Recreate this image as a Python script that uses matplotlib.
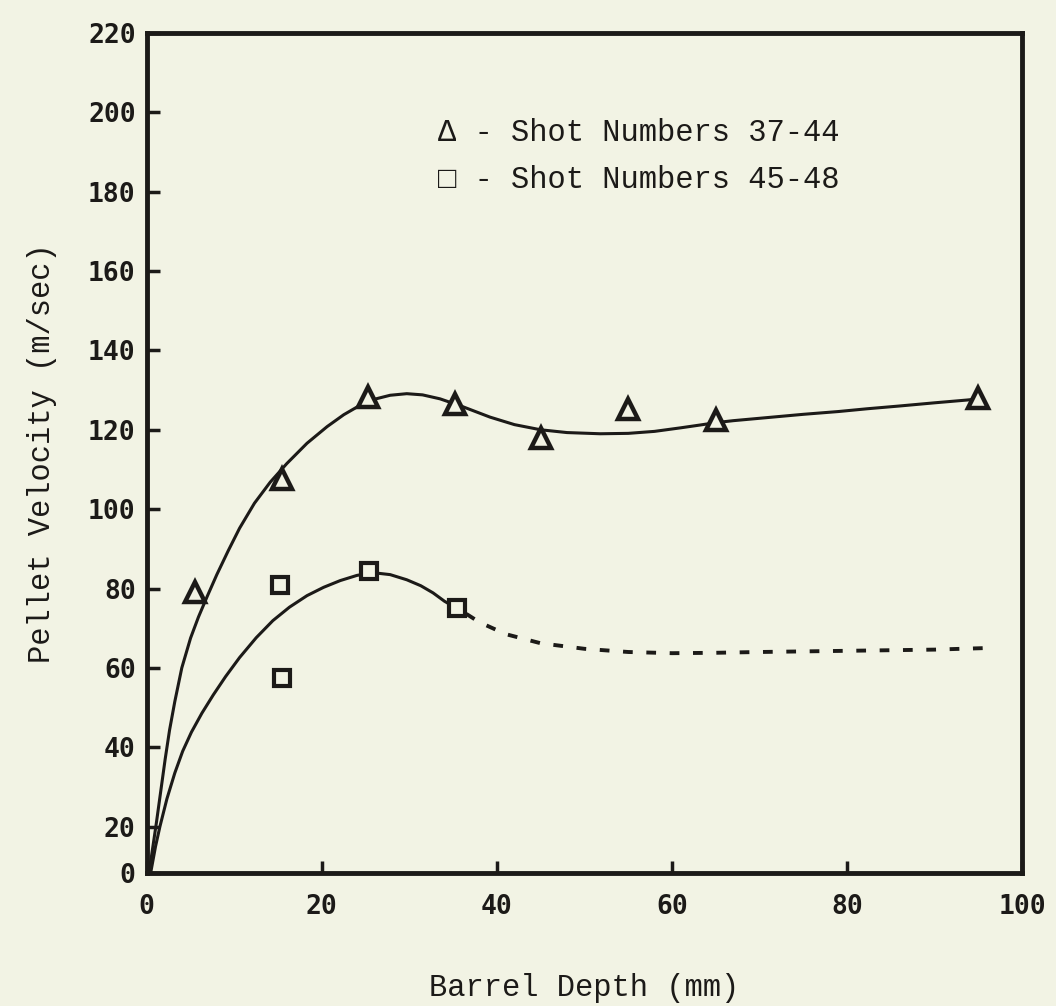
import numpy as np
import matplotlib.pyplot as plt

# measured points
tri_x = [5.5, 15.4, 25.3, 35.2, 45.0, 55.0, 65.0, 95.0]
tri_y = [79.0, 107.5, 128.3, 126.6, 118.0, 125.3, 122.5, 128.0]
sq_x = [15.2, 15.5, 25.4, 35.4]
sq_y = [81.0, 57.5, 84.5, 75.0]

# hand drawn fit curves
fit1_x = [0.3, 0.7, 1.1, 1.6, 2.1, 2.6, 3.2, 4.0, 5.0, 5.9, 6.9, 8.0, 9.3, 10.6,
          12.3, 14.1, 16.0, 18.3, 20.6, 22.5, 24.3, 26.0, 27.8, 29.7, 31.5, 33.5,
          36.0, 39.2, 42.0, 45.0, 48.0, 51.8, 55.0, 58.0, 61.0, 63.2, 65.0, 67.0,
          71.0, 75.0, 79.0, 82.3, 86.0, 90.0, 93.7, 95.0]
fit1_y = [9.0, 15.0, 21.0, 29.0, 37.0, 44.3, 51.5, 60.0, 67.5, 72.8, 78.0, 83.5, 89.5, 95.2,
          101.5, 106.8, 111.5, 116.6, 120.8, 123.8, 126.1, 127.7, 128.7, 129.1, 128.8, 127.8,
          125.9, 123.2, 121.3, 120.0, 119.3, 119.0, 119.1, 119.6, 120.5, 121.2, 121.8, 122.3,
          123.1, 123.9, 124.6, 125.3, 126.0, 126.8, 127.5, 127.8]
fit2_x = [0.5, 1.0, 1.5, 2.3, 3.2, 4.1, 5.1, 6.3, 7.6, 9.0, 10.6, 12.5, 14.4, 16.3,
          18.3, 20.2, 22.1, 24.0, 25.8, 27.8, 29.7, 31.3, 32.7, 34.0, 35.4]
fit2_y = [9.0, 15.0, 20.0, 27.0, 33.5, 39.0, 43.8, 48.6, 53.2, 57.8, 62.6, 67.6, 71.9, 75.3,
          78.2, 80.3, 82.0, 83.3, 84.0, 83.5, 82.2, 80.7, 78.9, 76.8, 75.0]
ext2_x = [36.5, 38.0, 41.0, 45.0, 50.0, 55.0, 60.0, 65.0, 70.0, 80.0, 90.0, 96.0]
ext2_y = [73.6, 71.5, 68.5, 66.2, 64.8, 64.0, 63.7, 63.8, 64.0, 64.3, 64.6, 65.0]

yticks = [20, 40, 60, 80, 100, 120, 140, 160, 180, 200, 220]
xticks = [0, 20, 40, 60, 80, 100]

ink = '#1c1a18'
paper = '#f2f3e4'

fig = plt.figure(figsize=(10.56, 10.06), dpi=100, facecolor=paper)
ax = fig.add_axes([0.139, 0.1322, 0.829, 0.835], facecolor=paper)

ax.plot(fit1_x, fit1_y, color=ink, lw=2.2, solid_joinstyle='round')
ax.plot(fit2_x, fit2_y, color=ink, lw=2.2, solid_joinstyle='round')
ax.plot(ext2_x, ext2_y, color=ink, lw=2.8, ls=(0, (2.5, 3.5)))
ax.plot(tri_x, tri_y, ls='none', marker='^', ms=15, mfc=paper, mec=ink, mew=3.2)
ax.plot(sq_x, sq_y, ls='none', marker='s', ms=12, mfc=paper, mec=ink, mew=3)

ax.set_xlim(0, 100)
ax.set_ylim(8.3, 220)
ax.set_xticks(xticks)
ax.set_xticklabels([str(v) for v in xticks])
ax.set_yticks([8.3] + yticks)
ax.set_yticklabels(['0'] + [str(v) for v in yticks])

tickfont = dict(family='DejaVu Sans Mono', weight='bold', size=19)
for lab in ax.get_xticklabels() + ax.get_yticklabels():
    lab.set_fontproperties(tickfont)
    lab.set_color(ink)
ax.tick_params(direction='in', length=9, width=2.5, color=ink, pad=8)
ax.tick_params(axis='x', pad=15)
for s in ax.spines.values():
    s.set_linewidth(3.5)
    s.set_color(ink)

mono = ['Liberation Mono', 'DejaVu Sans Mono']
ax.set_xlabel('Barrel Depth (mm)', family=mono, size=22, color=ink, labelpad=38)
ax.set_ylabel('Pellet Velocity (m/sec)', family=mono, size=22, color=ink, labelpad=22)

ax.text(33.3, 194.8, '\u0394 - Shot Numbers 37-44', family=mono, size=22,
        color=ink, va='center')
ax.text(33.3, 183.0, '\u25a1 - Shot Numbers 45-48', family=mono, size=22,
        color=ink, va='center')

plt.savefig('out.png', dpi=100, facecolor=paper)
